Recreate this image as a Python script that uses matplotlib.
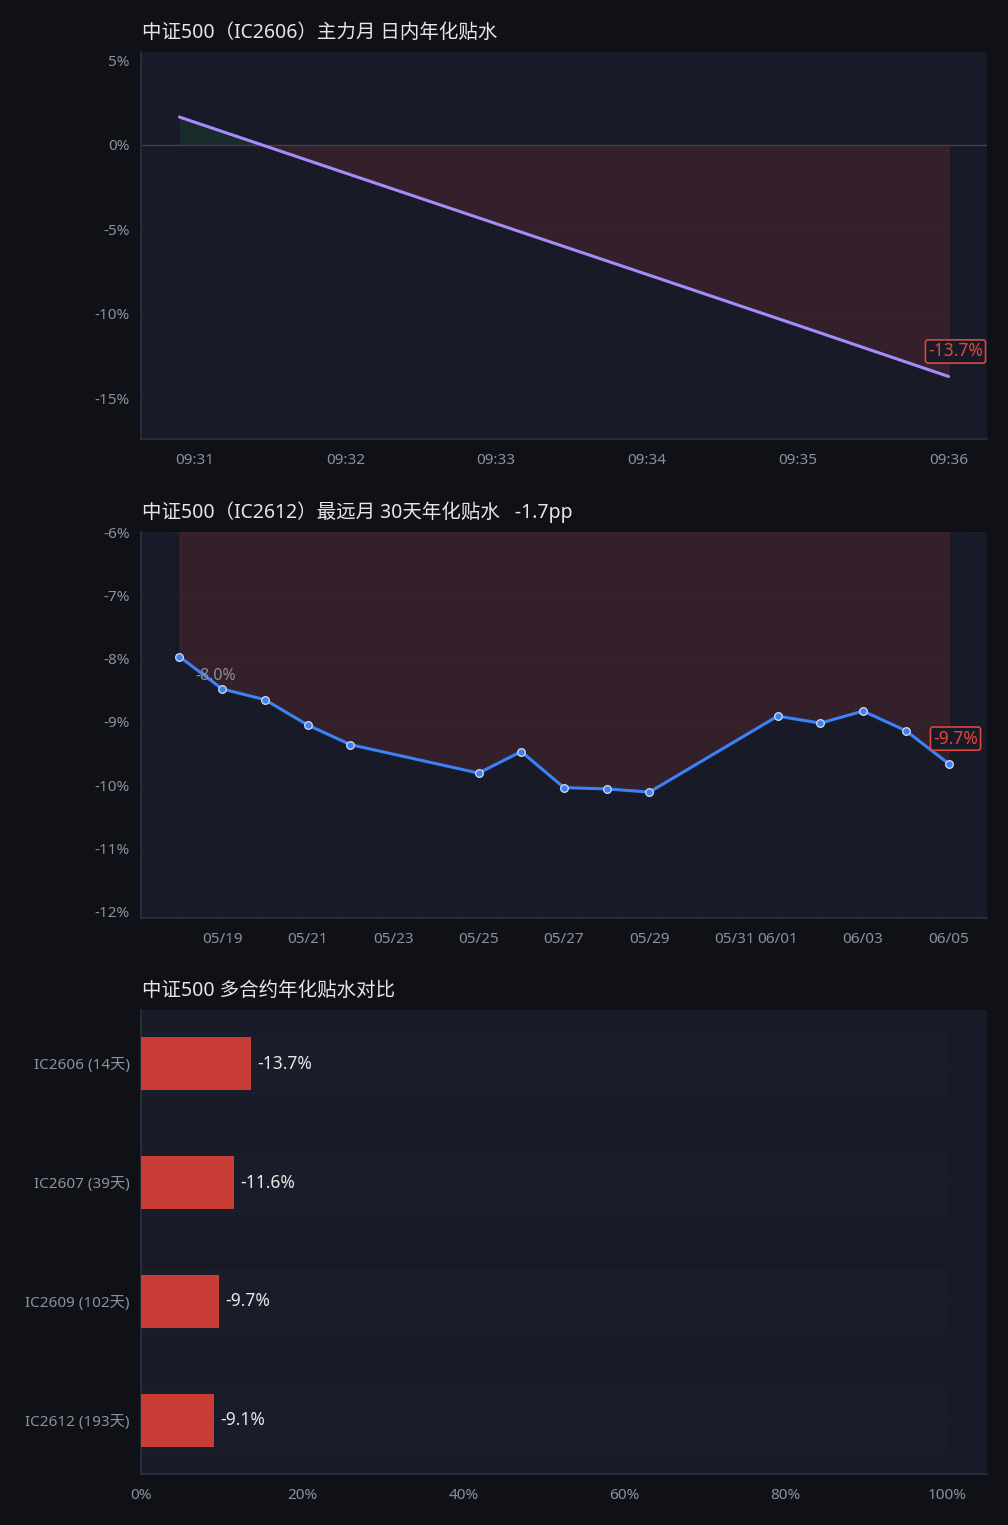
from datetime import datetime

import matplotlib
matplotlib.use("Agg")
import matplotlib.pyplot as plt
import matplotlib.dates as mdates
from matplotlib.ticker import FuncFormatter, MultipleLocator
import numpy as np

plt.rcParams["font.family"] = ["Noto Sans", "Noto Sans CJK SC", "DejaVu Sans"]
plt.rcParams["axes.unicode_minus"] = False

# intraday annualised basis, IC2606
intraday_times = ["09:30:54", "09:32:00", "09:33:00", "09:34:00", "09:35:00", "09:36:00"]
intraday_basis = [1.65, -1.66, -4.66, -7.66, -10.67, -13.7]

# far month IC2612, 30 days
far_dates = ["2025-05-18", "2025-05-19", "2025-05-20", "2025-05-21", "2025-05-22",
             "2025-05-25", "2025-05-26", "2025-05-27", "2025-05-28", "2025-05-29",
             "2025-06-01", "2025-06-02", "2025-06-03", "2025-06-04", "2025-06-05"]
far_basis = [-7.97, -8.48, -8.65, -9.05, -9.36, -9.81, -9.47, -10.04, -10.06, -10.11,
             -8.91, -9.02, -8.83, -9.14, -9.66]

# multi-contract comparison
contracts = ["IC2606 (14天)", "IC2607 (39天)", "IC2609 (102天)", "IC2612 (193天)"]
contract_basis = [-13.7, -11.6, -9.7, -9.1]

FIG_BG = "#0f1116"
AX_BG = "#181b27"
GRID = "#20232f"
SPINE = "#2c303d"
TICK = "#8b90a0"
TITLE = "#e4e6eb"
RED = "#ef4444"
GREEN = "#22c55e"
BAR_RED = "#c83e37"
LABEL_RED = "#e0453b"


def style_axes(ax):
    ax.set_facecolor(AX_BG)
    for side in ("top", "right"):
        ax.spines[side].set_visible(False)
    for side in ("left", "bottom"):
        ax.spines[side].set_color(SPINE)
        ax.spines[side].set_linewidth(1.2)
    ax.tick_params(length=0, colors=TICK, labelsize=11, pad=8)
    ax.tick_params(axis="x", pad=10)


def pct(v, _pos=None):
    return f"{v:.0f}%"


def end_box(ax, x, y, text):
    ax.annotate(text, xy=(x, y), xytext=(5, 18), textcoords="offset points",
                ha="center", va="center", color=LABEL_RED, fontsize=12.5,
                bbox=dict(boxstyle="round,pad=0.15", fc=AX_BG, ec=LABEL_RED, lw=1.2),
                zorder=6)


fig = plt.figure(figsize=(10.08, 15.25), dpi=100, facecolor=FIG_BG)
left, width = 141 / 1008, 846 / 1008
ax1 = fig.add_axes([left, 1 - 439 / 1525, width, 387 / 1525])
ax2 = fig.add_axes([left, 1 - 918 / 1525, width, 386 / 1525])
ax3 = fig.add_axes([left, 1 - 1474 / 1525, width, 464 / 1525])

# ---- panel 1
t1 = [datetime.strptime("2025-06-05 " + s, "%Y-%m-%d %H:%M:%S") for s in intraday_times]
x1 = mdates.date2num(t1)
y1 = np.array(intraday_basis)
style_axes(ax1)
ax1.grid(axis="y", color=GRID, lw=0.8, ls=(0, (3, 3)))
ax1.set_axisbelow(True)
ax1.fill_between(x1, y1, 0, where=y1 >= 0, interpolate=True, color=GREEN, alpha=0.1, lw=0)
ax1.fill_between(x1, y1, 0, where=y1 <= 0, interpolate=True, facecolor=RED, alpha=0.13,
                 edgecolor=RED, lw=0.8)
ax1.axhline(0, color="#3b404c", lw=1)
ax1.plot(x1, y1, color="#a78bfa", lw=2.2, solid_capstyle="round", zorder=4)
ax1.set_ylim(-17.4, 5.5)
ax1.yaxis.set_major_locator(MultipleLocator(5))
ax1.yaxis.set_major_formatter(FuncFormatter(pct))
ax1.xaxis.set_major_locator(mdates.MinuteLocator())
ax1.xaxis.set_major_formatter(mdates.DateFormatter("%H:%M"))
end_box(ax1, x1[-1], y1[-1], f"{intraday_basis[-1]:.1f}%")
ax1.set_title("中证500（IC2606）主力月 日内年化贴水", loc="left", color=TITLE,
              fontsize=14, pad=10, x=0.001)

# ---- panel 2
x2 = mdates.date2num([datetime.strptime(d, "%Y-%m-%d") for d in far_dates])
y2 = np.array(far_basis)
style_axes(ax2)
ax2.grid(axis="y", color=GRID, lw=0.8, ls=(0, (3, 3)))
ax2.set_axisbelow(True)
ax2.fill_between(x2, y2, 0, facecolor=RED, alpha=0.13, edgecolor=RED, lw=0.8)
ax2.plot(x2, y2, color="#3b82f6", lw=2.2, marker="o", ms=5.5, mfc="#3b82f6",
         mec="#d6deec", mew=0.9, zorder=4)
ax2.set_ylim(-12.1, -6)
ax2.yaxis.set_major_locator(MultipleLocator(1))
ax2.yaxis.set_major_formatter(FuncFormatter(pct))
ax2.xaxis.set_major_locator(mdates.DayLocator(bymonthday=range(1, 32, 2)))
ax2.xaxis.set_major_formatter(mdates.DateFormatter("%m/%d"))
ax2.annotate(f"{far_basis[0]:.1f}%", xy=(x2[0], y2[0]), xytext=(26, -14),
             textcoords="offset points", ha="center", va="center", color=TICK,
             fontsize=11.5, zorder=6)
end_box(ax2, x2[-1], y2[-1], f"{far_basis[-1]:.1f}%")
change = round(far_basis[-1], 1) - round(far_basis[0], 1)
ax2.set_title(f"中证500（IC2612）最远月 30天年化贴水   {change:.1f}pp", loc="left",
              color=TITLE, fontsize=14, pad=10, x=0.001)

# ---- panel 3
pos = np.arange(len(contracts))
style_axes(ax3)
ax3.barh(pos, [100] * len(pos), height=0.56, color="#191c29", zorder=1)
ax3.grid(axis="y", color=GRID, lw=0.8, ls=(0, (3, 3)), zorder=2)
bars = ax3.barh(pos, np.abs(contract_basis), height=0.45, color=BAR_RED, zorder=3)
for b, v in zip(bars, contract_basis):
    ax3.text(b.get_width() + 0.7, b.get_y() + b.get_height() / 2, f"{v:.1f}%",
             va="center", ha="left", color="#e6e6e6", fontsize=12.5, zorder=4)
ax3.set_yticks(pos)
ax3.set_yticklabels(contracts)
ax3.set_ylim(len(pos) - 1 + 0.45, -0.45)
ax3.set_xlim(0, 105)
ax3.xaxis.set_major_locator(MultipleLocator(20))
ax3.xaxis.set_major_formatter(FuncFormatter(lambda v, p: f"{v:.0f}%" if v <= 100 else ""))
ax3.set_title("中证500 多合约年化贴水对比", loc="left", color=TITLE, fontsize=14,
              pad=10, x=0.001)

fig.savefig("out.png", dpi=100, facecolor=FIG_BG)
